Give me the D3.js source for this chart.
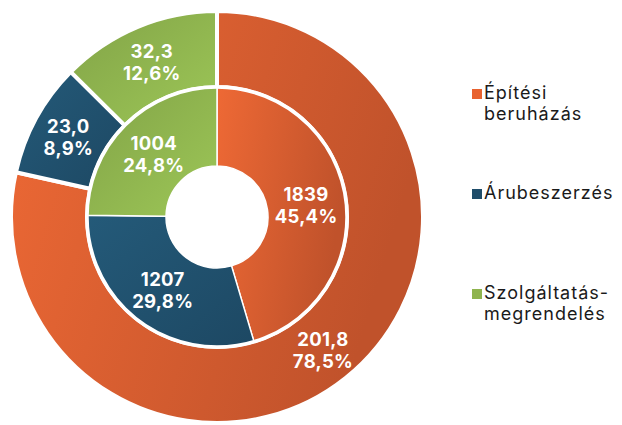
<!DOCTYPE html>
<html>
<head>
<meta charset="utf-8">
<script src="https://cdn.jsdelivr.net/npm/d3@7"></script>
<style>
  body { margin: 0; background: #fff; }
  svg text { font-family: Inter, "Noto Sans", sans-serif; }
</style>
</head>
<body>
<svg width="622" height="425"></svg>
<script>
// data
var categories = ["Építési beruházás", "Árubeszerzés", "Szolgáltatás-megrendelés"];
var legendLines = [["Építési", "beruházás"], ["Árubeszerzés"], ["Szolgáltatás-", "megrendelés"]];
var innerValues = [1839, 1207, 1004];
var innerPct = ["45,4%", "29,8%", "24,8%"];
var outerValues = [201.8, 23.0, 32.3];
var outerPct = ["78,5%", "8,9%", "12,6%"];

var svg = d3.select("svg"),
  width = +svg.attr("width"),
  height = +svg.attr("height");

var cx = 217, cy = 217;

// gradients, one per category
var grads = [
  { id: "g0", from: "#ee6935", to: "#c0522b", x2: 1, y2: 0.3 },
  { id: "g1", from: "#245a79", to: "#1d4863", x2: 1, y2: 1 },
  { id: "g2", from: "#82a347", to: "#9dc757", x2: 1, y2: 1 }
];
var defs = svg.append("defs");
grads.forEach(function(g) {
  var lg = defs.append("linearGradient").attr("id", g.id)
    .attr("x1", 0).attr("y1", 0).attr("x2", g.x2).attr("y2", g.y2);
  lg.append("stop").attr("offset", "0%").attr("stop-color", g.from);
  lg.append("stop").attr("offset", "100%").attr("stop-color", g.to);
});
var legendColor = ["#e8622f", "#1f4d6a", "#8fb44e"];

var pie = d3.pie().sort(null).value(function(d) { return d; });

var innerArc = d3.arc().innerRadius(51).outerRadius(130);
var outerArc = d3.arc().innerRadius(130).outerRadius(206);
var innerLabelArc = d3.arc().innerRadius(52).outerRadius(128);
var outerLabelArc = d3.arc().innerRadius(133).outerRadius(206);

var g = svg.append("g").attr("transform", "translate(" + cx + "," + cy + ")");

g.append("g").selectAll("path")
  .data(pie(outerValues))
  .enter().append("path")
  .attr("d", outerArc)
  .attr("fill", function(d, i) { return "url(#g" + i + ")"; })
  .attr("stroke", "#fff")
  .attr("stroke-width", 4)
  .attr("stroke-linejoin", "round");

g.append("g").selectAll("path")
  .data(pie(innerValues))
  .enter().append("path")
  .attr("d", innerArc)
  .attr("fill", function(d, i) { return "url(#g" + i + ")"; })
  .attr("stroke", "#fff")
  .attr("stroke-width", 1.5);

// white ring between the two donuts
g.append("circle").attr("r", 130).attr("fill", "none")
  .attr("stroke", "#fff").attr("stroke-width", 3.5);

function addLabels(data, arc, values, pcts) {
  var lab = g.append("g").selectAll("text")
    .data(data)
    .enter().append("text")
    .attr("transform", function(d) { return "translate(" + arc.centroid(d) + ")"; })
    .attr("text-anchor", "middle")
    .attr("fill", "#fff")
    .attr("font-weight", 700)
    .attr("font-size", "18.5px")
    .attr("letter-spacing", "0.3px");
  lab.append("tspan").attr("x", 0).attr("y", -3)
    .text(function(d, i) { return values[i]; });
  lab.append("tspan").attr("x", 0).attr("y", 19)
    .text(function(d, i) { return pcts[i]; });
}
addLabels(pie(innerValues), innerLabelArc, innerValues.map(String), innerPct);
addLabels(pie(outerValues), outerLabelArc,
  outerValues.map(function(v) { return v.toFixed(1).replace(".", ","); }), outerPct);

// legend
var legendY = [99, 199, 299];
var legend = svg.append("g").selectAll("g")
  .data(categories)
  .enter().append("g")
  .attr("transform", function(d, i) { return "translate(472," + legendY[i] + ")"; });
legend.append("rect")
  .attr("x", 0).attr("y", -10).attr("width", 10).attr("height", 10)
  .attr("fill", function(d, i) { return legendColor[i]; });
legend.each(function(d, i) {
  var t = d3.select(this).append("text")
    .attr("font-size", "18px")
    .attr("letter-spacing", "1px")
    .attr("fill", "#1a1a1a");
  legendLines[i].forEach(function(line, j) {
    t.append("tspan").attr("x", 12).attr("y", j * 21).text(line);
  });
});
</script>
</body>
</html>
